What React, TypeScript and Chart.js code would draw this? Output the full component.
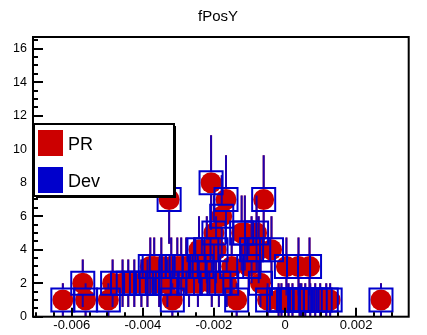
import React, { useEffect, useRef } from 'react';
import { Chart, registerables } from 'chart.js';

Chart.register(...registerables);

const chartTitle = 'fPosY';
const seriesNames = ['PR', 'Dev'];

// bin positions (x) and counts
const xValues = [
  -0.00625, -0.00569, -0.00561, -0.00497, -0.00485, -0.00457, -0.00441, -0.00424,
  -0.00404, -0.00387, -0.00379, -0.00368, -0.00354, -0.00348, -0.00331, -0.00326,
  -0.0032, -0.00317, -0.00303, -0.00292, -0.00278, -0.0027, -0.00256, -0.00245,
  -0.00242, -0.00234, -0.0022, -0.00208, -0.00206, -0.002, -0.00194, -0.00186,
  -0.00178, -0.00166, -0.00164, -0.0015, -0.00136, -0.00122, -0.00113, -0.00102,
  -0.00094, -0.0008, -0.00074, -0.00069, -0.0006, -0.00049, -0.00038, -0.00018,
  -0.0001, 0.00004, 0.0001, 0.00021, 0.00038, 0.00041, 0.00046, 0.00057,
  0.00069, 0.00071, 0.00085, 0.00099, 0.00116, 0.00127, 0.0027,
];
const prCounts = [
  1, 2, 1, 1, 2, 2, 2, 2,
  2, 2, 3, 3, 2, 3, 2, 7,
  3, 1, 3, 3, 3, 2, 3, 2,
  4, 3, 4, 8, 2, 5, 4, 2,
  6, 7, 2, 3, 1, 5, 5, 3,
  4, 5, 4, 2, 7, 1, 4, 1,
  1, 3, 1, 1, 3, 1, 1, 1,
  3, 1, 1, 1, 1, 1, 1,
];
const devCounts = [...prCounts];

const xTickValues = [-0.006, -0.004, -0.002, 0, 0.002];
const xTickLabels = ['-0.006', '-0.004', '-0.002', '0', '0.002'];
const yTickValues = [0, 2, 4, 6, 8, 10, 12, 14, 16];
const yTickLabels = ['0', '2', '4', '6', '8', '10', '12', '14', '16'];

const X_MIN = -0.00709;
const X_MAX = 0.00348;
const Y_MIN = 0;
const Y_MAX = 16.7;
const X_MINOR = 0.0005;
const Y_MINOR = 0.5;

const RED = '#cc0000';
const BLUE = '#0000cc';
const FONT = '"Liberation Sans", Arial, Helvetica, sans-serif';

const errorBarPlugin = {
  id: 'errorBars',
  afterDatasetDraw(chart: any, args: any) {
    const ds: any = chart.data.datasets[args.index];
    const xs = chart.scales.x;
    const ys = chart.scales.y;
    const ctx = chart.ctx;
    ctx.save();
    ctx.beginPath();
    ctx.rect(chart.chartArea.left, chart.chartArea.top, chart.chartArea.right - chart.chartArea.left, chart.chartArea.bottom - chart.chartArea.top);
    ctx.clip();
    ctx.strokeStyle = ds.errColor;
    ctx.globalAlpha = ds.errAlpha;
    ctx.lineWidth = 2;
    ctx.beginPath();
    const gap = 11;
    ds.data.forEach((p: any) => {
      const px = xs.getPixelForValue(p.x);
      const py = ys.getPixelForValue(p.y);
      const e = Math.sqrt(p.y);
      const top = ys.getPixelForValue(p.y + e);
      const bot = ys.getPixelForValue(Math.max(0, p.y - e));
      if (py - gap > top) {
        ctx.moveTo(px, py - gap);
        ctx.lineTo(px, top);
      }
      if (bot > py + gap) {
        ctx.moveTo(px, py + gap);
        ctx.lineTo(px, bot);
      }
    });
    ctx.stroke();
    ctx.restore();
  },
};

const framePlugin = {
  id: 'rootFrame',
  afterDraw(chart: any) {
    const ctx = chart.ctx;
    const { left, right, top, bottom } = chart.chartArea;
    const xs = chart.scales.x;
    const ys = chart.scales.y;
    ctx.save();
    ctx.strokeStyle = '#000';
    ctx.lineWidth = 2;
    ctx.beginPath();
    for (let v = Math.ceil(X_MIN / X_MINOR) * X_MINOR; v <= X_MAX + 1e-12; v += X_MINOR) {
      const px = Math.round(xs.getPixelForValue(v));
      const isMajor = xTickValues.some((t) => Math.abs(t - v) < 1e-9);
      const len = isMajor ? 9 : 4.5;
      ctx.moveTo(px, bottom);
      ctx.lineTo(px, bottom - len);
    }
    for (let v = Y_MIN; v <= Y_MAX + 1e-9; v += Y_MINOR) {
      const py = Math.round(ys.getPixelForValue(v));
      const isMajor = yTickValues.some((t) => Math.abs(t - v) < 1e-9);
      const len = isMajor ? 10 : 5;
      ctx.moveTo(left, py);
      ctx.lineTo(left + len, py);
    }
    ctx.stroke();
    ctx.strokeRect(left, top, right - left, bottom - top);

    ctx.fillStyle = '#000';
    ctx.font = `15px ${FONT}`;
    ctx.textAlign = 'center';
    ctx.textBaseline = 'alphabetic';
    ctx.fillText(chartTitle, 218, 21);

    const lx = 34, ly = 124, lw = 140, lh = 72;
    ctx.fillStyle = '#000';
    ctx.fillRect(lx + 2, ly + 2, lw, lh);
    ctx.fillStyle = '#fff';
    ctx.fillRect(lx, ly, lw, lh);
    ctx.lineWidth = 2;
    ctx.strokeStyle = '#000';
    ctx.strokeRect(lx, ly, lw, lh);

    ctx.fillStyle = RED;
    ctx.fillRect(38, 130, 25, 26);
    ctx.fillStyle = BLUE;
    ctx.fillRect(38, 167, 25, 26);

    ctx.fillStyle = '#000';
    ctx.font = `18px ${FONT}`;
    ctx.textAlign = 'left';
    ctx.fillText(seriesNames[0], 68, 149.5);
    ctx.fillText(seriesNames[1], 68, 186.5);
    ctx.restore();
  },
};

export default function App() {
  const canvasRef = useRef<HTMLCanvasElement | null>(null);

  useEffect(() => {
    const canvas = canvasRef.current;
    if (!canvas) return;
    const prData = xValues.map((x, i) => ({ x, y: prCounts[i] }));
    const devData = xValues.map((x, i) => ({ x, y: devCounts[i] }));
    const chart = new Chart(canvas, {
      type: 'scatter',
      data: {
        datasets: [
          {
            label: seriesNames[0],
            data: prData,
            order: 2,
            pointStyle: 'circle',
            pointRadius: 10.5,
            pointHoverRadius: 10.5,
            backgroundColor: RED,
            borderColor: RED,
            borderWidth: 0,
            errColor: RED,
            errAlpha: 1,
          } as any,
          {
            label: seriesNames[1],
            data: devData,
            order: 1,
            pointStyle: 'rect',
            pointRadius: 16.3,
            pointHoverRadius: 16.3,
            backgroundColor: 'rgba(0,0,0,0)',
            borderColor: BLUE,
            borderWidth: 2,
            errColor: BLUE,
            errAlpha: 0.85,
          } as any,
        ],
      },
      options: {
        responsive: false,
        animation: false,
        devicePixelRatio: 1,
        events: [],
        layout: { padding: { top: 37, right: 16, left: 0, bottom: 0 } },
        plugins: {
          legend: { display: false },
          tooltip: { enabled: false },
          title: { display: false },
        },
        scales: {
          x: {
            type: 'linear',
            min: X_MIN,
            max: X_MAX,
            grid: { display: false, drawTicks: false },
            border: { display: false },
            afterBuildTicks: (scale: any) => {
              scale.ticks = xTickValues.map((v) => ({ value: v }));
            },
            afterFit: (scale: any) => {
              scale.height = 17;
            },
            ticks: {
              autoSkip: false,
              maxRotation: 0,
              padding: 1,
              color: '#000',
              font: { family: FONT, size: 13 },
              callback: (v: any) => {
                const i = xTickValues.findIndex((t) => Math.abs(t - Number(v)) < 1e-9);
                return i >= 0 ? xTickLabels[i] : '';
              },
            },
          },
          y: {
            type: 'linear',
            min: Y_MIN,
            max: Y_MAX,
            grid: { display: false, drawTicks: false },
            border: { display: false },
            afterBuildTicks: (scale: any) => {
              scale.ticks = yTickValues.map((v) => ({ value: v }));
            },
            afterFit: (scale: any) => {
              scale.width = 33;
            },
            ticks: {
              autoSkip: false,
              padding: 6,
              color: '#000',
              font: { family: FONT, size: 12.5 },
              callback: (v: any) => {
                const i = yTickValues.findIndex((t) => Math.abs(t - Number(v)) < 1e-9);
                return i >= 0 ? yTickLabels[i] : '';
              },
            },
          },
        },
      } as any,
      plugins: [errorBarPlugin, framePlugin],
    });
    return () => chart.destroy();
  }, []);

  return (
    <div style={{ position: 'absolute', left: 0, top: 0, width: 427, height: 335, background: '#fff' }}>
      <canvas ref={canvasRef} width={427} height={335} style={{ display: 'block', width: 427, height: 335 }} />
    </div>
  );
}
